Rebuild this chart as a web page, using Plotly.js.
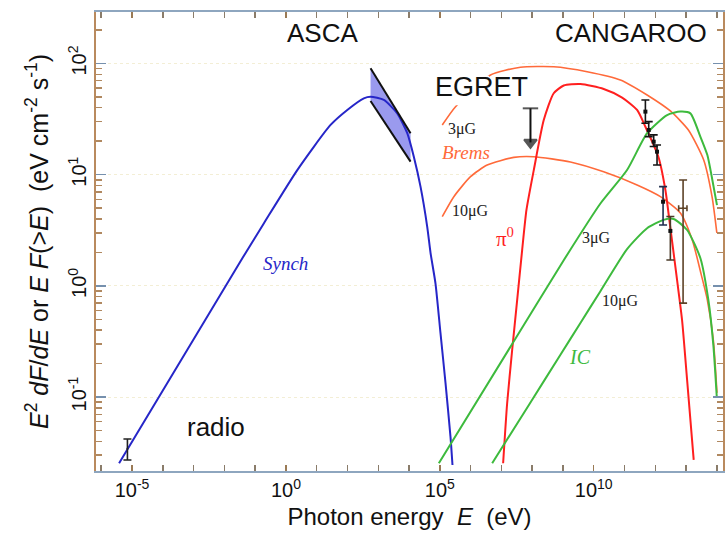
<!DOCTYPE html>
<html>
<head>
<meta charset="utf-8">
<script src="https://cdn.plot.ly/plotly-3.0.1.min.js"></script>
<style>html,body{margin:0;padding:0;background:#fff;}#chart{width:725px;height:539px;}</style>
</head>
<body>
<div id="chart"></div>
<script>
// ---- Synchrotron model (E in eV, E^2 dF/dE in eV cm^-2 s^-1)
const synchE = [3.80e-6, 0.0384, 0.193, 2.34, 28.2, 98.6, 340, 562, 1520, 4140, 8750, 14300, 23600, 39000, 49900, 72400, 105000, 153000, 222000, 258000];
const synchF = [0.0254, 1.77, 3.66, 11.0, 28.0, 38.2, 48.6, 50.2, 47.0, 35.6, 23.6, 14.5, 7.80, 3.40, 1.98, 1.05, 0.377, 0.134, 0.0441, 0.0245];

// ---- ASCA bow-tie
const ascaE = [562, 11200];
const ascaHi = [90.6, 23.6];
const ascaLo = [46.0, 13.1];

// ---- Bremsstrahlung 3 uG and 10 uG
const brems3E = [1.20e5, 3.24e5, 4.43e6, 4.17e7, 5.02e8, 6.11e9, 7.36e10, 5.42e11, 3.09e12, 1.19e13, 3.72e13, 6.98e13, 1.0e14];
const brems3F = [28.0, 40.9, 78.9, 92.5, 93.6, 84.4, 71.1, 52.1, 37.4, 25.2, 13.6, 6.34, 2.99];
const brems10E = [1.20e5, 2.85e5, 9.93e5, 3.46e6, 2.53e7, 1.13e8, 1.75e9, 2.11e10, 2.56e11, 1.47e12, 6.53e12, 1.59e13, 3.14e13, 4.92e13, 7.69e13, 1.01e14];
const brems10F = [4.19, 6.34, 9.59, 12.2, 14.3, 14.5, 13.0, 10.6, 8.07, 6.34, 4.53, 2.59, 1.25, 0.746, 0.326, 0.109];

// ---- pi0 decay
const pi0E = [1.14e7, 1.54e7, 2.24e7, 3.26e7, 4.73e7, 6.53e7, 1.13e8, 2.38e8, 5.02e8, 1.06e9, 3.70e9, 2.11e10, 8.36e10, 2.56e11, 4.77e11, 1.26e12, 2.13e12, 3.09e12, 5.10e12, 7.41e12, 1.08e13, 1.77e13];
const pi0F = [0.0254, 0.0879, 0.265, 0.747, 2.10, 4.82, 11.0, 31.0, 54.0, 63.4, 65.4, 59.0, 49.4, 38.2, 27.0, 14.5, 7.28, 3.32, 1.13, 0.493, 0.143, 0.0272];

// ---- Inverse Compton 3 uG and 10 uG
const ic3E = [9.29e4, 2.24e7, 1.06e9, 1.65e10, 1.21e11, 5.42e11, 2.42e12, 6.53e12, 1.38e13, 2.91e13, 4.92e13, 7.15e13, 1.01e14];
const ic3F = [0.0254, 0.300, 1.70, 5.5, 11.0, 23.6, 34.4, 36.9, 35.6, 22.0, 15.0, 8.96, 5.33];
const ic10E = [5.02e6, 8.81e7, 8.30e8, 3.70e9, 1.65e10, 1.21e11, 5.42e11, 1.87e12, 3.95e12, 1.08e13, 2.91e13, 5.30e13, 7.69e13, 1.0e14];
const ic10F = [0.0254, 0.0895, 0.240, 0.464, 0.895, 2.14, 3.30, 3.92, 4.00, 3.18, 1.78, 0.746, 0.294, 0.098];

// ---- Radio point
const radioE = [7.1e-6];
const radioF = [0.0345];
const radioHi = [0.0075];
const radioLo = [0.0073];

// ---- EGRET upper limit
const egretE = [8.81e7];
const egretUL = [39.5];
const egretArrowTip = [19.5];

// ---- CANGAROO data points
const tevE = [4.77e11, 6.11e11, 8.88e11, 1.14e12];
const tevF = [36.9, 25.2, 19.8, 16.1];
const tevHi = [10.1, 4.8, 3.0, 2.4];
const tevLo = [7.9, 3.2, 1.9, 3.9];
const tev5E = [1.79e12], tev5F = [5.71], tev5Hi = [2.09], tev5Lo = [2.18];
const tev6E = [3.09e12], tev6F = [3.12], tev6Hi = [1.09], tev6Lo = [1.41];
const tev7E = [8.0e12], tev7F = [4.99], tev7Hi = [3.97], tev7Lo = [4.29], tev7Ehi = [2.7e12], tev7Elo = [2.25e12];

// ---- Axis ticks
const xTickVals = [1e-5, 1, 1e5, 1e10];
const xTickText = ['10<sup>-5</sup>', '10<sup>0</sup>', '10<sup>5</sup>', '10<sup>10</sup>'];
const xMinor = [1e-6,1e-4,1e-3,1e-2,1e-1,10,1e2,1e3,1e4,1e6,1e7,1e8,1e9,1e11,1e12,1e13,1e14];
const yTickVals = [0.1, 1, 10, 100];
const yTickText = ['10<sup>-1</sup>','10<sup>0</sup>','10<sup>1</sup>','10<sup>2</sup>'];
const yMinor = [];
[0.01, 0.1, 1, 10, 100].forEach(d => { for (let k = 2; k <= 9; k++) yMinor.push(d * k); });

const BLUE = '#2626c8', ORANGE = '#ff6a3a', RED = '#ff1f1f', GREEN = '#3dba3d';

function curve(x, y, color, w) {
  return {x: x, y: y, type: 'scatter', mode: 'lines', line: {color: color, width: w, shape: 'spline', smoothing: 0.6}, hoverinfo: 'skip', showlegend: false};
}

const traces = [];
traces.push({x: ascaE.concat(ascaE.slice().reverse()), y: ascaHi.concat(ascaLo.slice().reverse()), type: 'scatter', mode: 'lines', fill: 'toself', fillcolor: 'rgba(120,120,232,0.75)', line: {width: 0}, showlegend: false, hoverinfo: 'skip'});
traces.push(curve(synchE, synchF, BLUE, 2));
traces.push({x: ascaE, y: ascaHi, type: 'scatter', mode: 'lines', line: {color: '#111', width: 2}, showlegend: false});
traces.push({x: ascaE, y: ascaLo, type: 'scatter', mode: 'lines', line: {color: '#111', width: 2}, showlegend: false});
traces.push(curve(brems3E, brems3F, ORANGE, 1.6));
traces.push(curve(brems10E, brems10F, ORANGE, 1.6));
traces.push(curve(pi0E, pi0F, RED, 2));
traces.push(curve(ic3E, ic3F, GREEN, 2));
traces.push(curve(ic10E, ic10F, GREEN, 2));
traces.push({x: radioE, y: radioF, type: 'scatter', mode: 'markers', marker: {size: 2, color: '#222'},
  error_y: {type: 'data', symmetric: false, array: radioHi, arrayminus: radioLo, color: '#222', thickness: 1.6, width: 4}, showlegend: false});
traces.push({x: egretE.concat(egretE), y: egretUL.concat(egretArrowTip), type: 'scatter', mode: 'lines+markers',
  line: {color: '#111', width: 2},
  marker: {symbol: ['line-ew-open', 'triangle-down'], size: [11, 11], color: '#111', line: {color: '#111', width: 2}}, showlegend: false});
function pts(x, y, hi, lo, col, extra) {
  const t = {x: x, y: y, type: 'scatter', mode: 'markers', marker: {symbol: 'square', size: 4, color: '#111'},
    error_y: {type: 'data', symmetric: false, array: hi, arrayminus: lo, color: col, thickness: 1.6, width: 4}, showlegend: false};
  return Object.assign(t, extra || {});
}
traces.push(pts(tevE, tevF, tevHi, tevLo, '#151515'));
traces.push(pts(tev5E, tev5F, tev5Hi, tev5Lo, '#1f2d4d'));
traces.push(pts(tev6E, tev6F, tev6Hi, tev6Lo, '#4a3a28'));
traces.push(pts(tev7E, tev7F, tev7Hi, tev7Lo, '#5e4328', {
  marker: {size: 2, color: '#5e4328'},
  error_x: {type: 'data', symmetric: false, array: tev7Ehi, arrayminus: tev7Elo, color: '#5e4328', thickness: 1.6, width: 3}}));

const serif = '"Liberation Serif", "Times New Roman", serif';
const sans = '"Liberation Sans", Arial, Helvetica, sans-serif';
function lbl(text, x, y, size, color, fam) {
  return {text: text, x: x, y: y, xref: 'paper', yref: 'paper', xanchor: 'center', yanchor: 'middle', showarrow: false,
    font: {size: size, color: color, family: fam || sans}};
}

const layout = {
  width: 725, height: 539,
  margin: {l: 96, r: 2, t: 12, b: 68},
  paper_bgcolor: '#fff', plot_bgcolor: '#fff',
  font: {family: sans, color: '#111'},
  showlegend: false,
  xaxis: {
    type: 'log', range: [-6.17, 14.2],
    tickmode: 'array', tickvals: xTickVals, ticktext: xTickText,
    ticks: 'inside', ticklen: 6, tickwidth: 1.5, tickcolor: '#9a7a55',
    minor: {tickmode: 'array', tickvals: xMinor, ticks: 'inside', ticklen: 6, tickwidth: 1.5, tickcolor: '#8a7c6a', showgrid: false},
    showline: true, linecolor: '#8ea6bf', linewidth: 2, mirror: 'ticks',
    showgrid: false, zeroline: false,
    tickfont: {size: 20, color: '#111', family: sans},
    title: {text: 'Photon energy\u00a0\u00a0<i>E</i>\u00a0\u00a0(eV)', font: {size: 24, color: '#111', family: sans}, standoff: 8}
  },
  yaxis: {
    type: 'log', range: [-1.665, 2.463],
    tickmode: 'array', tickvals: yTickVals, ticktext: yTickText, tickangle: -90,
    ticks: 'inside', ticklen: 10, tickwidth: 1.5, tickcolor: '#7690ad',
    minor: {tickmode: 'array', tickvals: yMinor, ticks: 'inside', ticklen: 6, tickwidth: 1.5, tickcolor: '#b08860', showgrid: false},
    showline: true, linecolor: '#b98a5e', linewidth: 2, mirror: 'ticks',
    showgrid: true, gridcolor: '#f3eed5', griddash: 'dot', gridwidth: 1, zeroline: false,
    tickfont: {size: 20, color: '#111', family: sans},
    title: {text: '<i>E</i><sup>2</sup> <i>dF</i>/<i>dE</i> or <i>E</i> <i>F</i>(&gt;<i>E</i>)\u00a0\u00a0(eV cm<sup>-2</sup> s<sup>-1</sup>)', font: {size: 25, color: '#111', family: sans}, standoff: 9}
  },
  shapes: [
    {type: 'rect', xref: 'paper', yref: 'paper', x0: 0.536, x1: 0.627, y0: 0.797, y1: 0.861, fillcolor: '#fff', line: {width: 0}, layer: 'above'}
  ],
  annotations: [
    lbl('ASCA', 0.3605, 0.954, 26, '#111'),
    lbl('CANGAROO', 0.853, 0.954, 26, '#111'),
    lbl('EGRET', 0.615, 0.837, 27, '#111'),
    lbl('radio', 0.191, 0.096, 26, '#111'),
    lbl('<i>Synch</i>', 0.303, 0.453, 19, BLUE, serif),
    lbl('3\u03bcG', 0.584, 0.745, 16, '#222', serif),
    lbl('<i>Brems</i>', 0.590, 0.693, 19, ORANGE, serif),
    lbl('10\u03bcG', 0.5965, 0.566, 16, '#222', serif),
    lbl('\u03c0<sup>0</sup>', 0.652, 0.508, 21, RED, serif),
    lbl('3\u03bcG', 0.799, 0.508, 16, '#222', serif),
    lbl('10\u03bcG', 0.836, 0.370, 16, '#222', serif),
    lbl('<i>IC</i>', 0.772, 0.248, 20, GREEN, serif)
  ]
};

Plotly.newPlot('chart', traces, layout, {displayModeBar: false, staticPlot: true});
</script>
</body>
</html>
